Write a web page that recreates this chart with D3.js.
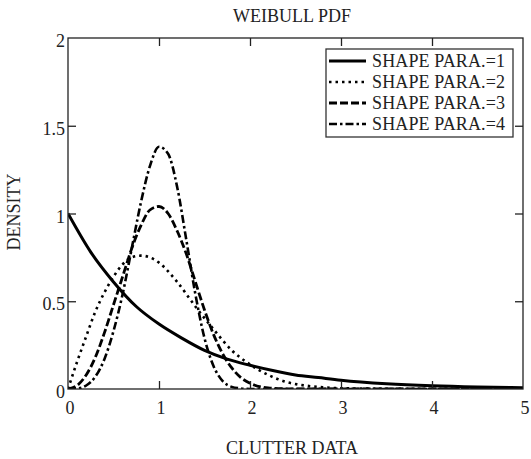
<!DOCTYPE html>
<html><head><meta charset="utf-8">
<script src="https://cdn.jsdelivr.net/npm/d3@7"></script>
<style>body{margin:0;background:#fff}svg{display:block}text{font-family:"Liberation Serif","Times New Roman",serif;fill:#222}</style>
</head><body><svg id="c" width="531" height="459"></svg>
<script>
const title = "WEIBULL PDF";
const xTitle = "CLUTTER DATA";
const yTitle = "DENSITY";
const seriesNames = ["SHAPE PARA.=1","SHAPE PARA.=2","SHAPE PARA.=3","SHAPE PARA.=4"];
const xTicks = [0,1,2,3,4,5];
const yTicks = [0,0.5,1,1.5,2];

const x1 = [0,0.25,0.5,0.75,1,1.25,1.5,1.75,2,2.25,2.5,2.75,3,3.5,4,4.5,5];
const y1 = [1.00,0.78,0.61,0.47,0.37,0.29,0.22,0.17,0.135,0.105,0.08,0.065,0.05,0.03,0.018,0.011,0.007];

const x2 = [0,0.1,0.2,0.3,0.4,0.5,0.6,0.7,0.8,0.9,1.0,1.2,1.4,1.6,1.8,2.0,2.2,2.4,2.6,2.8,3.0,4.0,5.0];
const y2 = [0,0.155,0.30,0.44,0.55,0.64,0.71,0.75,0.76,0.75,0.72,0.61,0.47,0.34,0.22,0.14,0.08,0.04,0.02,0.01,0.004,0,0];

const x3 = [0,0.1,0.2,0.3,0.4,0.5,0.6,0.7,0.8,0.9,1.0,1.1,1.2,1.3,1.4,1.5,1.6,1.7,1.8,1.9,2.0,2.2,2.4,3,4,5];
const y3 = [0,0.02,0.08,0.18,0.32,0.48,0.64,0.80,0.93,1.02,1.04,1.00,0.90,0.77,0.61,0.45,0.31,0.20,0.12,0.065,0.033,0.006,0.001,0,0,0];

const x4 = [0,0.1,0.2,0.3,0.4,0.5,0.6,0.7,0.8,0.9,1.0,1.1,1.2,1.3,1.4,1.5,1.6,1.7,1.8,1.9,2.0,3,4,5];
const y4 = [0,0.003,0.02,0.07,0.17,0.33,0.54,0.80,1.06,1.27,1.38,1.34,1.15,0.85,0.54,0.29,0.13,0.045,0.012,0.003,0,0,0,0];

const styles = [
  {w:3, dash:null},
  {w:2.6, dash:"2.5,4"},
  {w:2.8, dash:"8,3"},
  {w:2.6, dash:"8,3,2.5,3"}
];

const svg = d3.select("#c");
const L=68, R=523, T=38, B=389;
const x = d3.scaleLinear().domain([0,5]).range([L,R]);
const y = d3.scaleLinear().domain([0,2]).range([B,T]);

svg.append("defs").append("clipPath").attr("id","clip")
  .append("rect").attr("x",L).attr("y",T).attr("width",R-L).attr("height",B-T);

const data = [[x1,y1],[x2,y2],[x3,y3],[x4,y4]].map(([xs,ys])=>xs.map((v,i)=>[v,ys[i]]));
const line = d3.line().x(d=>x(d[0])).y(d=>y(d[1])).curve(d3.curveMonotoneX);
const g = svg.append("g").attr("clip-path","url(#clip)");
data.forEach((d,i)=>{
  g.append("path").attr("d",line(d)).attr("fill","none").attr("stroke","#000")
   .attr("stroke-width",styles[i].w).attr("stroke-dasharray",styles[i].dash);
});

// frame
svg.append("rect").attr("x",L).attr("y",T).attr("width",R-L).attr("height",B-T)
  .attr("fill","none").attr("stroke","#222").attr("stroke-width",1.3);

// axes with inward ticks
const tl = 8;
const xb = svg.append("g").attr("transform",`translate(0,${B})`)
  .call(d3.axisTop(x).tickValues(xTicks.slice(1,-1)).tickSize(tl).tickFormat(""));
const xt = svg.append("g").attr("transform",`translate(0,${T})`)
  .call(d3.axisBottom(x).tickValues(xTicks.slice(1,-1)).tickSize(tl).tickFormat(""));
const yl = svg.append("g").attr("transform",`translate(${L},0)`)
  .call(d3.axisRight(y).tickValues(yTicks.slice(1,-1)).tickSize(tl).tickFormat(""));
const yr = svg.append("g").attr("transform",`translate(${R},0)`)
  .call(d3.axisLeft(y).tickValues(yTicks.slice(1,-1)).tickSize(tl).tickFormat(""));
[xb,xt,yl,yr].forEach(a=>{a.select(".domain").remove();a.selectAll("line").attr("stroke","#222").attr("stroke-width",1.3);});

// tick labels
svg.append("g").selectAll("text").data(xTicks).join("text")
  .attr("x",d=>x(d)+2).attr("y",B+25).attr("text-anchor","middle")
  .style("font-size","18px").text(d=>d);
svg.append("g").selectAll("text").data(yTicks).join("text")
  .attr("x",L-3).attr("y",d=>y(d)+9).attr("text-anchor","end")
  .style("font-size","18px").text(d=>d);

// titles
svg.append("text").attr("x",292).attr("y",22).attr("text-anchor","middle").style("font-size","18px").text(title);
svg.append("text").attr("x",292).attr("y",454).attr("text-anchor","middle").style("font-size","18px").text(xTitle);
svg.append("text").attr("transform","translate(20,212) rotate(-90)").attr("text-anchor","middle").style("font-size","18px").text(yTitle);

// legend
const lg = svg.append("g");
const lx=326, ly=49, lw=187, rowH=21;
lg.append("rect").attr("x",lx).attr("y",ly).attr("width",lw).attr("height",rowH*4+4)
  .attr("fill","#fff").attr("stroke","#333").attr("stroke-width",1.3);
seriesNames.forEach((n,i)=>{
  const cy = ly+12+i*rowH;
  lg.append("line").attr("x1",lx+3).attr("x2",lx+40).attr("y1",cy).attr("y2",cy)
    .attr("stroke","#000").attr("stroke-width",styles[i].w).attr("stroke-dasharray",styles[i].dash);
  lg.append("text").attr("x",lx+46).attr("y",cy+6).attr("textLength",133).attr("lengthAdjust","spacing")
    .style("font-size","18px").text(n);
});
</script></body></html>
